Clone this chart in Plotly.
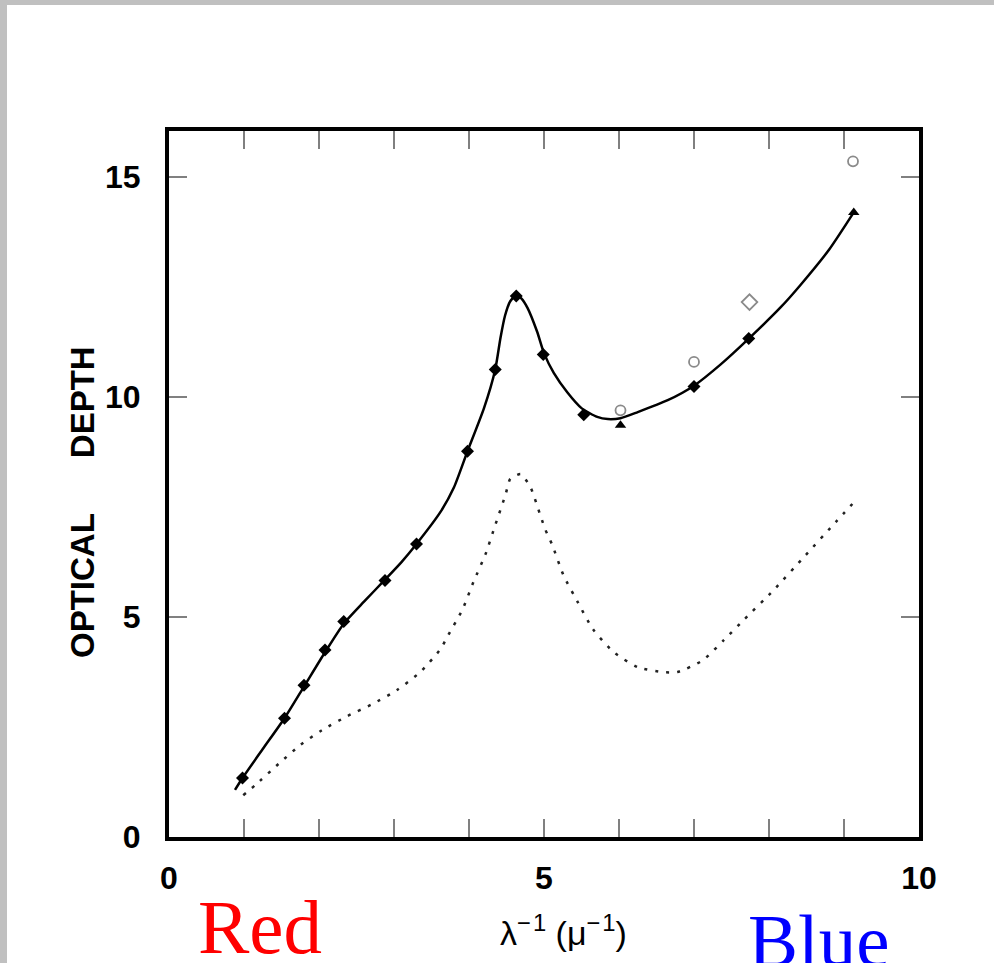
import plotly.graph_objects as go

# ---------------- data ----------------
solid_x = [0.88, 0.98, 1.25, 1.54, 1.80, 2.08, 2.33, 2.60, 2.88, 3.10, 3.30, 3.62, 3.80,
           3.98, 4.20, 4.35, 4.42, 4.48, 4.55, 4.63, 4.70, 4.78, 4.91, 5.00, 5.13, 5.31, 5.50,
           5.71, 5.85, 6.02, 6.25, 6.65, 7.00, 7.36, 7.73, 8.16, 8.42, 8.80, 9.13]
solid_y = [1.07, 1.34, 2.00, 2.70, 3.42, 4.20, 4.85, 5.35, 5.85, 6.25, 6.66, 7.39, 7.95,
           8.77, 9.75, 10.63, 11.35, 11.85, 12.18, 12.32, 12.24, 12.03, 11.48, 11.00, 10.55, 10.11, 9.75,
           9.55, 9.50, 9.52, 9.66, 9.93, 10.26, 10.75, 11.33, 12.05, 12.55, 13.35, 14.20]

dotted_x = [0.99, 1.15, 1.46, 1.75, 2.04, 2.38, 2.71, 3.04, 3.35, 3.62, 3.71, 3.91, 4.06,
            4.22, 4.35, 4.49, 4.55, 4.69, 4.82, 4.95, 5.02, 5.11, 5.26, 5.45, 5.65, 5.93,
            6.25, 6.58, 6.78, 7.12, 7.40, 7.66, 8.06, 8.49, 8.89, 9.16]
dotted_y = [0.95, 1.18, 1.66, 2.09, 2.43, 2.75, 3.02, 3.34, 3.75, 4.27, 4.55, 5.16, 5.80,
            6.43, 7.09, 7.80, 8.14, 8.25, 7.95, 7.32, 6.98, 6.64, 5.95, 5.34, 4.73, 4.20,
            3.86, 3.75, 3.75, 4.02, 4.48, 4.93, 5.61, 6.41, 7.16, 7.66]

filled_x = [0.98, 1.54, 1.80, 2.08, 2.33, 2.88, 3.30, 3.98, 4.35, 4.63, 4.99, 5.53, 7.00, 7.73]
filled_y = [1.34, 2.70, 3.45, 4.25, 4.90, 5.83, 6.66, 8.77, 10.63, 12.30, 10.97, 9.60, 10.24, 11.33]

tri_x = [6.02, 9.13]
tri_y = [9.36, 14.20]

open_circle_x = [6.02, 7.00, 9.12]
open_circle_y = [9.70, 10.80, 15.36]
open_diamond_x = [7.74]
open_diamond_y = [12.16]

x_tick_vals = list(range(0, 11))
x_tick_text = ["0", "", "", "", "", "5", "", "", "", "", "10"]
y_tick_vals = [0, 5, 10, 15]
y_tick_text = ["0", "5", "10", "15"]

# ---------------- figure ----------------
fig = go.Figure()

fig.add_trace(go.Scatter(x=dotted_x, y=dotted_y, mode="lines",
                         line=dict(color="#222222", width=2.5, dash="3px,8px", shape="spline", smoothing=0.6),
                         hoverinfo="skip"))
fig.add_trace(go.Scatter(x=solid_x, y=solid_y, mode="lines",
                         line=dict(color="black", width=2.5, shape="spline", smoothing=0.6),
                         hoverinfo="skip"))
fig.add_trace(go.Scatter(x=filled_x, y=filled_y, mode="markers",
                         marker=dict(symbol="diamond", size=10, color="black")))
fig.add_trace(go.Scatter(x=tri_x, y=tri_y, mode="markers",
                         marker=dict(symbol="triangle-up", size=10, color="black")))
fig.add_trace(go.Scatter(x=open_circle_x, y=open_circle_y, mode="markers",
                         marker=dict(symbol="circle-open", size=10, color="#8a8a8a",
                                     line=dict(width=1.8, color="#8a8a8a"))))
fig.add_trace(go.Scatter(x=open_diamond_x, y=open_diamond_y, mode="markers",
                         marker=dict(symbol="diamond-open", size=12, color="#8a8a8a",
                                     line=dict(width=1.8, color="#8a8a8a"))))

W, H = 994, 963
ML, MR, MT, MB = 169, 75, 131, 126
PW, PH = W - ML - MR, H - MT - MB


def px(xp):
    return (xp - ML) / PW


def py(yp):
    return (H - MB - yp) / PH


tick_font = dict(family="Liberation Sans, Arial, sans-serif", size=32, color="black", weight="bold")

fig.update_layout(
    width=W, height=H,
    margin=dict(l=ML, r=MR, t=MT, b=MB),
    paper_bgcolor="white", plot_bgcolor="white",
    showlegend=False,
    xaxis=dict(range=[0, 10], tickvals=x_tick_vals, ticktext=x_tick_text,
               ticks="inside", ticklen=18, tickwidth=2, tickcolor="#808080",
               showline=True, linewidth=4, linecolor="black", mirror="allticks",
               showgrid=False, zeroline=False, tickfont=tick_font, ticklabelstandoff=10),
    yaxis=dict(range=[0, 16.05], tickvals=y_tick_vals, ticktext=y_tick_text,
               ticks="inside", ticklen=18, tickwidth=2, tickcolor="#808080",
               showline=True, linewidth=4, linecolor="black", mirror="allticks",
               showgrid=False, zeroline=False, tickfont=tick_font, ticklabelstandoff=18),
    shapes=[
        dict(type="rect", xref="paper", yref="paper", x0=px(0), x1=px(W), y0=py(5), y1=py(0),
             fillcolor="#c0c0c0", line=dict(width=0), layer="above"),
        dict(type="rect", xref="paper", yref="paper", x0=px(0), x1=px(7), y0=py(H), y1=py(0),
             fillcolor="#c0c0c0", line=dict(width=0), layer="above"),
    ],
    annotations=[
        dict(text="OPTICAL\u00a0\u00a0\u00a0\u00a0\u00a0\u00a0DEPTH", textangle=-90,
             xref="paper", yref="paper", x=px(82), y=py(502), xanchor="center", yanchor="middle",
             showarrow=False,
             font=dict(family="Liberation Sans, Arial, sans-serif", size=33, color="black", weight="bold")),
        dict(text="λ<sup>\u2212\u200a1</sup>\u00a0(μ<sup>\u2212\u200a1</sup>)",
             xref="paper", yref="paper", x=px(563), y=py(930), xanchor="center", yanchor="middle",
             showarrow=False,
             font=dict(family="Liberation Sans, Arial, sans-serif", size=34, color="black")),
        dict(text="Red", xref="paper", yref="paper", x=px(196), y=py(927),
             xanchor="left", yanchor="middle", showarrow=False,
             font=dict(family="Liberation Serif, Times New Roman, serif", size=77, color="#ff0000")),
        dict(text="Blue", xref="paper", yref="paper", x=px(746), y=py(940),
             xanchor="left", yanchor="middle", showarrow=False,
             font=dict(family="Liberation Serif, Times New Roman, serif", size=75, color="#0000ff")),
    ],
)

fig.write_html("out.html", config={"displayModeBar": False},
               post_script="document.body.style.margin='0';document.body.style.padding='0';")
